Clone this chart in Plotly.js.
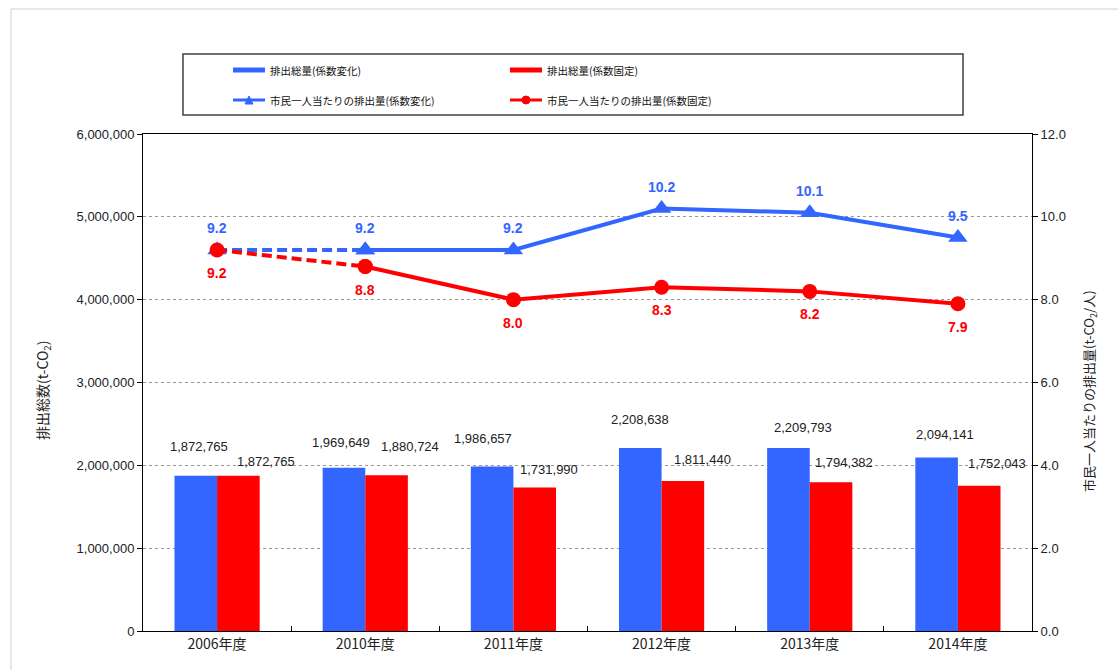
<!DOCTYPE html>
<html>
<head>
<meta charset="utf-8">
<script src="https://cdn.plot.ly/plotly-3.0.1.min.js"></script>
<style>
  html, body { margin: 0; padding: 0; background: #fff; }
  #chart { width: 1118px; height: 670px; }
</style>
</head>
<body>
<div id="chart"></div>
<script>
// 年度ごとのCO2排出量と市民一人当たり排出量
const years = ['2006年度', '2010年度', '2011年度', '2012年度', '2013年度', '2014年度'];
const totalVariable = [1872765, 1969649, 1986657, 2208638, 2209793, 2094141]; // 排出総量(係数変化)
const totalFixed    = [1872765, 1880724, 1731990, 1811440, 1794382, 1752043]; // 排出総量(係数固定)
const perCapitaVariable = [9.2, 9.2, 9.2, 10.2, 10.1, 9.5]; // 市民一人当たりの排出量(係数変化)
const perCapitaFixed    = [9.2, 8.8, 8.0, 8.3, 8.2, 7.9];   // 市民一人当たりの排出量(係数固定)

const legendNames = [
  '排出総量(係数変化)', '排出総量(係数固定)',
  '市民一人当たりの排出量(係数変化)', '市民一人当たりの排出量(係数固定)'
];

const BLUE = '#3366FF';
const RED = '#FF0000';
const NUM_FONT = '"Liberation Sans", Arial, "Noto Sans CJK JP", sans-serif';
const JP_FONT = '"Noto Sans CJK JP", "Liberation Sans", sans-serif';

// plot area geometry in pixels
const W = 1118, H = 670, ML = 143, MR = 86, MT = 134, MB = 39;
const PW = W - ML - MR, PH = H - MT - MB;
const px = x => (x - ML) / PW;
const py = y => (H - MB - y) / PH;

// pixel nudges for the bar value labels [dx, dy] relative to the bar top
const blueLabelNudge = [[-18, 29], [-24, 25], [-30, 28], [-22, 29], [-7, 20], [-13, 23]];
const redLabelNudge  = [[49, 14], [45, 29], [36, 18], [41, 21], [34, 20], [39, 22]];

const fmt = v => v.toLocaleString('en-US');

const traces = [
  { type: 'bar', x: years, y: totalVariable, marker: { color: BLUE }, yaxis: 'y', hoverinfo: 'y' },
  { type: 'bar', x: years, y: totalFixed, marker: { color: RED }, yaxis: 'y', hoverinfo: 'y' },
  // 2006→2010 dashed segments
  { type: 'scatter', mode: 'lines+markers', x: years.slice(0, 2), y: perCapitaVariable.slice(0, 2), yaxis: 'y2',
    line: { color: BLUE, width: 4, dash: '10px,5px' }, marker: { symbol: 'triangle-up', size: 17, color: BLUE } },
  { type: 'scatter', mode: 'lines+markers', x: years.slice(0, 2), y: perCapitaFixed.slice(0, 2), yaxis: 'y2',
    line: { color: RED, width: 4, dash: '10px,5px' }, marker: { symbol: 'circle', size: 15, color: RED } },
  // 2010 onward solid lines
  { type: 'scatter', mode: 'lines+markers', x: years.slice(1), y: perCapitaVariable.slice(1), yaxis: 'y2',
    line: { color: BLUE, width: 4 }, marker: { symbol: 'triangle-up', size: 17, color: BLUE } },
  { type: 'scatter', mode: 'lines+markers', x: years.slice(1), y: perCapitaFixed.slice(1), yaxis: 'y2',
    line: { color: RED, width: 4 }, marker: { symbol: 'circle', size: 15, color: RED } }
];

const annotations = [];
years.forEach((yr, i) => {
  annotations.push({ x: yr, y: totalVariable[i], xref: 'x', yref: 'y', text: fmt(totalVariable[i]),
    showarrow: false, xshift: blueLabelNudge[i][0], yshift: blueLabelNudge[i][1],
    font: { family: NUM_FONT, size: 13, color: '#222' } });
  annotations.push({ x: yr, y: totalFixed[i], xref: 'x', yref: 'y', text: fmt(totalFixed[i]),
    showarrow: false, xshift: redLabelNudge[i][0], yshift: redLabelNudge[i][1],
    font: { family: NUM_FONT, size: 13, color: '#222' } });
  annotations.push({ x: yr, y: perCapitaVariable[i], xref: 'x', yref: 'y2', text: perCapitaVariable[i].toFixed(1),
    showarrow: false, yshift: 22, font: { family: NUM_FONT, size: 14, color: BLUE, weight: 'bold' } });
  annotations.push({ x: yr, y: perCapitaFixed[i], xref: 'x', yref: 'y2', text: perCapitaFixed[i].toFixed(1),
    showarrow: false, yshift: -23, font: { family: NUM_FONT, size: 14, color: RED, weight: 'bold' } });
});

// axis titles
annotations.push({ xref: 'paper', yref: 'paper', x: px(43), y: py(390), xanchor: 'center', yanchor: 'middle',
  text: '排出総数(t-CO<sub>2</sub>)', textangle: -90, showarrow: false,
  font: { family: JP_FONT, size: 14, color: '#222' } });
annotations.push({ xref: 'paper', yref: 'paper', x: px(1089), y: py(391), xanchor: 'center', yanchor: 'middle',
  text: '市民一人当たりの排出量(t-CO<sub>2</sub>/人)', textangle: -90, showarrow: false,
  font: { family: JP_FONT, size: 13, color: '#222' } });

// legend box contents
const legendRows = [70, 100];
const legendCols = [[233, 265, 268], [510, 542, 545]];
legendNames.forEach((name, k) => {
  const col = legendCols[k % 2], row = legendRows[Math.floor(k / 2)];
  annotations.push({ xref: 'paper', yref: 'paper', x: px(col[2]), y: py(row), xanchor: 'left', yanchor: 'middle',
    text: name, showarrow: false, font: { family: JP_FONT, size: 10.5, color: '#111' } });
});

const shapes = [
  // page frame
  { type: 'line', xref: 'paper', yref: 'paper', x0: px(11), x1: px(1118), y0: py(9), y1: py(9), line: { color: '#d0d0d0', width: 1 } },
  { type: 'line', xref: 'paper', yref: 'paper', x0: px(11), x1: px(11), y0: py(9), y1: py(670), line: { color: '#d0d0d0', width: 1 } },
  // legend frame
  { type: 'rect', xref: 'paper', yref: 'paper', x0: px(183), x1: px(963), y0: py(115), y1: py(54), line: { color: '#404040', width: 1.5 }, fillcolor: 'rgba(0,0,0,0)' },
  // legend keys
  { type: 'line', xref: 'paper', yref: 'paper', x0: px(233), x1: px(265), y0: py(70), y1: py(70), line: { color: BLUE, width: 5 } },
  { type: 'line', xref: 'paper', yref: 'paper', x0: px(510), x1: px(542), y0: py(70), y1: py(70), line: { color: RED, width: 5 } },
  { type: 'line', xref: 'paper', yref: 'paper', x0: px(233), x1: px(265), y0: py(100), y1: py(100), line: { color: BLUE, width: 3 } },
  { type: 'line', xref: 'paper', yref: 'paper', x0: px(510), x1: px(542), y0: py(100), y1: py(100), line: { color: RED, width: 3 } },
  { type: 'path', xref: 'paper', yref: 'paper',
    path: `M ${px(245)} ${py(104)} L ${px(253)} ${py(104)} L ${px(249)} ${py(96)} Z`,
    fillcolor: BLUE, line: { color: BLUE, width: 1 } },
  { type: 'circle', xref: 'paper', yref: 'paper', x0: px(522), x1: px(530), y0: py(104), y1: py(96),
    fillcolor: RED, line: { color: RED, width: 1 } }
];

const layout = {
  width: W, height: H,
  margin: { l: ML, r: MR, t: MT, b: MB, pad: 0 },
  paper_bgcolor: '#fff', plot_bgcolor: '#fff',
  showlegend: false,
  barmode: 'group', bargap: 0.425, bargroupgap: 0,
  font: { family: NUM_FONT, size: 13, color: '#222' },
  xaxis: {
    type: 'category', showline: true, mirror: true, linecolor: '#000', linewidth: 1,
    ticks: 'inside', tickson: 'boundaries', ticklen: 5, tickcolor: '#000',
    showgrid: false, tickfont: { family: JP_FONT, size: 14, color: '#222' }, fixedrange: true
  },
  yaxis: {
    range: [0, 6000000], dtick: 1000000, tickformat: ',d',
    showline: true, linecolor: '#000', linewidth: 1, ticks: 'outside', ticklen: 5, tickcolor: '#000',
    showgrid: true, gridcolor: '#999', griddash: 'dot', gridwidth: 1, zeroline: false,
    tickfont: { family: NUM_FONT, size: 13, color: '#222' }
  },
  yaxis2: {
    overlaying: 'y', side: 'right', range: [0, 12], dtick: 2, tickformat: '.1f',
    showline: true, linecolor: '#000', linewidth: 1, ticks: 'outside', ticklen: 5, tickcolor: '#000',
    showgrid: false, zeroline: false,
    tickfont: { family: NUM_FONT, size: 13, color: '#222' }
  },
  annotations: annotations,
  shapes: shapes
};

Plotly.newPlot('chart', traces, layout, { displayModeBar: false, staticPlot: true });
</script>
</body>
</html>
